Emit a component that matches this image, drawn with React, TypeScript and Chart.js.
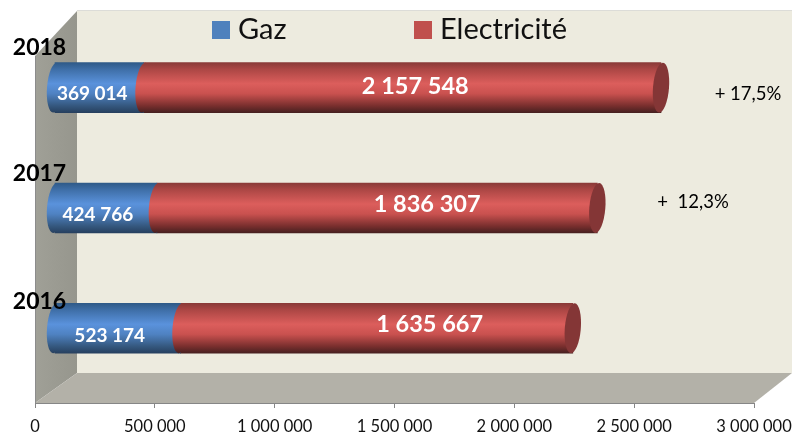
import React, { useEffect, useRef } from "react";
import { Chart, registerables } from "chart.js";

Chart.register(...registerables);

const years = [2016, 2017, 2018];
const gaz = [523174, 424766, 369014];
const electricite = [1635667, 1836307, 2157548];
const seriesNames = ["Gaz", "Electricité"];
const xTickValues = [0, 500000, 1000000, 1500000, 2000000, 2500000, 3000000];
const growthLabels = [
  { year: 2017, text: "+  12,3%" },
  { year: 2018, text: "+ 17,5%" },
];

const FONT = "Lato, 'Open Sans', sans-serif";
const fmt = (v: number) => String(v).replace(/\B(?=(\d{3})+(?!\d))/g, " ");

const gazStops: [number, string][] = [
  [0, "#2f5a88"], [0.14, "#3f6fa8"], [0.42, "#5a92dc"], [0.62, "#4f82c2"], [0.86, "#35587f"], [1, "#27405f"],
];
const elecStops: [number, string][] = [
  [0, "#8a3a38"], [0.14, "#ad4745"], [0.42, "#dc5e5c"], [0.62, "#c9514f"], [0.86, "#7a2f2e"], [1, "#472020"],
];

function barGradient(chart: any, year: number | undefined, stops: [number, string][]) {
  const sc = chart.scales.y;
  if (!sc || year === undefined) return stops[2][1];
  const c = sc.getPixelForValue(year);
  if (!Number.isFinite(c)) return stops[2][1];
  const g = chart.ctx.createLinearGradient(0, c - 25, 0, c + 25);
  stops.forEach(([p, col]) => g.addColorStop(p, col));
  return g;
}

const scene = {
  id: "scene",
  beforeDraw(chart: any) {
    const { ctx, chartArea: a, width } = chart;
    const dx = 42, dy = 30;
    ctx.save();
    ctx.fillStyle = "#edebdf";
    ctx.fillRect(a.left + dx, a.top, width - a.left - dx, a.bottom - dy - a.top);
    ctx.fillStyle = "#dcdcd8";
    ctx.fillRect(a.left + dx, a.top - 1, width - a.left - dx, 1);
    const wall = ctx.createLinearGradient(a.left, 0, a.left + dx, 0);
    wall.addColorStop(0, "#a0a097");
    wall.addColorStop(1, "#96968d");
    ctx.fillStyle = wall;
    ctx.beginPath();
    ctx.moveTo(a.left + dx, a.top);
    ctx.lineTo(a.left, a.top + 45);
    ctx.lineTo(a.left, a.bottom);
    ctx.lineTo(a.left + dx, a.bottom - dy);
    ctx.closePath();
    ctx.fill();
    ctx.fillStyle = "#b3b1a8";
    ctx.beginPath();
    ctx.moveTo(a.left, a.bottom);
    ctx.lineTo(a.left + dx, a.bottom - dy);
    ctx.lineTo(width, a.bottom - dy);
    ctx.lineTo(a.right, a.bottom);
    ctx.closePath();
    ctx.fill();
    ctx.strokeStyle = "#8c8c8c";
    ctx.beginPath();
    ctx.moveTo(a.left + 0.5, a.top + 45);
    ctx.lineTo(a.left + 0.5, a.bottom);
    ctx.stroke();
    ctx.restore();
  },
};

const cylinders = {
  id: "cylinders",
  afterDatasetsDraw(chart: any) {
    const { ctx } = chart;
    const tilt = 0.08, rx = 8;
    const blue = chart.getDatasetMeta(0).data;
    const red = chart.getDatasetMeta(1).data;
    ctx.save();
    const cap = (x: number, y: number, h: number, fill: any) => {
      ctx.fillStyle = fill;
      ctx.beginPath();
      ctx.ellipse(x, y, rx, h / 2, tilt, 0, Math.PI * 2);
      ctx.fill();
    };
    blue.forEach((b: any) => cap(b.base, b.y, b.height, b.options.backgroundColor));
    red.forEach((b: any) => {
      cap(b.base, b.y, b.height, b.options.backgroundColor);
      cap(b.x, b.y, b.height, "#843636");
    });
    ctx.restore();
  },
};

const gazLabelShift = [
  { dx: -8, dy: 7.5 }, { dx: -8, dy: 6.5 }, { dx: -7, dy: 6.5 },
];
const elecLabelShift = [
  { dx: 53, dy: -3.5 }, { dx: 50, dy: -3.5 }, { dx: 13, dy: -1.5 },
];
const yearLabelShift = [-26.5, -34, -40.5];

const annotations = {
  id: "annotations",
  afterDraw(chart: any) {
    const { ctx, scales } = chart;
    ctx.save();
    ctx.textAlign = "center";
    ctx.textBaseline = "middle";
    ctx.fillStyle = "#ffffff";
    ctx.font = `bold 19px ${FONT}`;
    chart.getDatasetMeta(0).data.forEach((b: any, i: number) => {
      ctx.fillText(fmt(gaz[i]), (b.x + b.base) / 2 + gazLabelShift[i].dx, b.y + gazLabelShift[i].dy);
    });
    ctx.font = `bold 23.5px ${FONT}`;
    chart.getDatasetMeta(1).data.forEach((b: any, i: number) => {
      ctx.fillText(fmt(electricite[i]), (b.x + b.base) / 2 + elecLabelShift[i].dx, b.y + elecLabelShift[i].dy);
    });
    ctx.fillStyle = "#000000";
    ctx.font = `bold 23px ${FONT}`;
    years.forEach((y, i) => {
      ctx.fillText(String(y), 39.5, scales.y.getPixelForValue(y) + yearLabelShift[i]);
    });
    ctx.font = `18.5px ${FONT}`;
    growthLabels.forEach((g) => {
      const dy = g.year === 2018 ? 6.5 : -5.5;
      const x = g.year === 2018 ? 748 : 693;
      ctx.fillText(g.text, x, scales.y.getPixelForValue(g.year) + dy);
    });
    ctx.textAlign = "left";
    ctx.font = `29px ${FONT}`;
    const legendX = [212, 414];
    chart.data.datasets.forEach((d: any, i: number) => {
      ctx.fillStyle = i === 0 ? "#4f81bd" : "#c0504d";
      ctx.fillRect(legendX[i], 21, 18, 18);
      ctx.fillStyle = "#111111";
      ctx.fillText(d.label, legendX[i] + 26, 30);
    });
    ctx.restore();
  },
};

export default function App() {
  const ref = useRef<HTMLCanvasElement>(null);
  useEffect(() => {
    const chart = new Chart(ref.current!, {
      type: "bar",
      data: {
        datasets: [
          {
            label: seriesNames[0],
            xAxisID: "x2",
            data: years.map((y, i) => ({ x: gaz[i], y })),
            backgroundColor: (c: any) => barGradient(c.chart, years[c.dataIndex], gazStops),
          },
          {
            label: seriesNames[1],
            xAxisID: "x2",
            data: years.map((y, i) => ({ x: electricite[i], y })),
            backgroundColor: (c: any) => barGradient(c.chart, years[c.dataIndex], elecStops),
          },
        ] as any,
      },
      options: {
        indexAxis: "y",
        responsive: false,
        animation: false,
        layout: { padding: { left: 35, right: 38, top: 11, bottom: 0 } },
        datasets: { bar: { barThickness: 50, borderWidth: 0 } },
        plugins: { legend: { display: false }, tooltip: { enabled: false } },
        scales: {
          x: {
            type: "linear",
            position: "bottom",
            min: 0,
            max: 3000000,
            afterBuildTicks(s: any) {
              s.ticks = xTickValues.map((value) => ({ value }));
            },
            afterFit(s: any) {
              s.height = 32;
              s.paddingLeft = 0;
              s.paddingRight = 0;
            },
            ticks: {
              maxRotation: 0,
              autoSkip: false,
              color: "#111111",
              padding: 9,
              font: { family: FONT, size: 16.5 },
              callback: (v: any) => fmt(Number(v)),
            },
            border: { display: true, color: "#868686", width: 1 },
            grid: { display: true, drawOnChartArea: false, drawTicks: true, tickLength: 5, color: "#868686" },
          },
          x2: { type: "linear", display: false, stacked: true, min: -83385, max: 2914300 },
          y: { type: "linear", display: false, stacked: true, offset: false, min: 2015.379, max: 2018.637 },
        },
      } as any,
      plugins: [scene, cylinders, annotations],
    });
    return () => chart.destroy();
  }, []);
  return (
    <div style={{ position: "absolute", left: 0, top: 0, width: 792, height: 435 }}>
      <canvas ref={ref} width={792} height={435} style={{ display: "block" }} />
    </div>
  );
}
